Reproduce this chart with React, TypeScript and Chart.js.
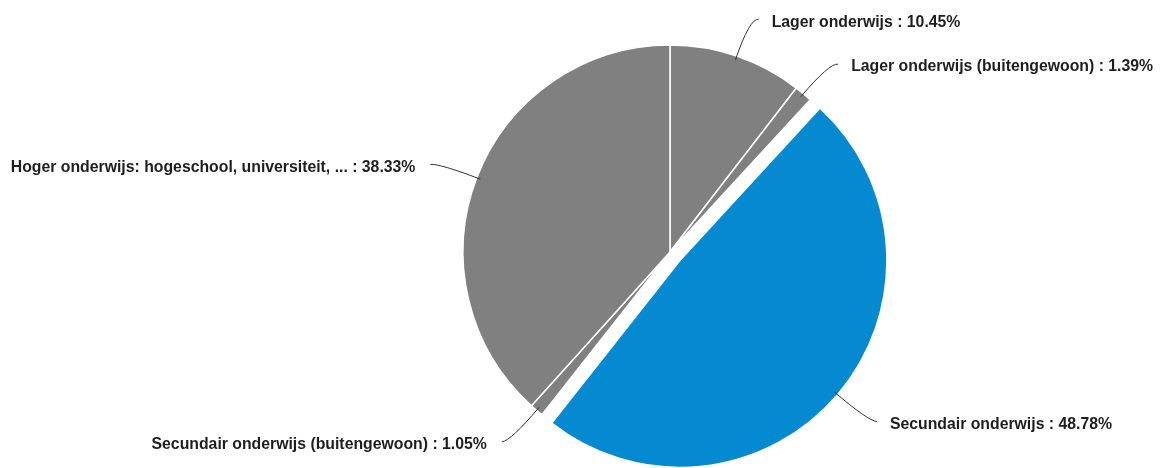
import React, { useEffect, useRef } from "react";
import { Chart, registerables } from "chart.js";

Chart.register(...registerables);

const categories = [
  "Lager onderwijs",
  "Lager onderwijs (buitengewoon)",
  "Secundair onderwijs",
  "Secundair onderwijs (buitengewoon)",
  "Hoger onderwijs: hogeschool, universiteit, ...",
];
const percentages = [10.45, 1.39, 48.78, 1.05, 38.33];
const sliceColors = ["#808080", "#808080", "#058ad1", "#808080", "#808080"];
const explodedIndex = 2;
const explodeDistance = 13;

const explodePlugin = {
  id: "explodeSlice",
  afterDatasetsUpdate(chart: any) {
    const meta = chart.getDatasetMeta(0);
    const arc = meta.data[explodedIndex];
    if (!arc) return;
    const mid = (arc.startAngle + arc.endAngle) / 2;
    arc.x += Math.cos(mid) * explodeDistance;
    arc.y += Math.sin(mid) * explodeDistance;
  },
};

const labelPlugin = {
  id: "outerLabels",
  afterDatasetsDraw(chart: any) {
    const ctx = chart.ctx;
    const meta = chart.getDatasetMeta(0);
    ctx.save();
    ctx.font = "bold 15.8px 'Liberation Sans', Arial, sans-serif";
    ctx.textBaseline = "middle";
    meta.data.forEach((arc: any, i: number) => {
      const mid = (arc.startAngle + arc.endAngle) / 2;
      const r = arc.outerRadius;
      const dx = Math.cos(mid);
      const dy = Math.sin(mid);
      const right = dx >= 0;
      const p0x = arc.x + dx * (r - 4);
      const p0y = arc.y + dy * (r - 4);
      const p1x = arc.x + dx * (r + 40);
      const p1y = arc.y + dy * (r + 40);
      const p2x = p1x + (right ? 9 : -9);
      const p2y = p1y + 1;
      ctx.strokeStyle = "#333333";
      ctx.lineWidth = 1;
      ctx.beginPath();
      ctx.moveTo(p0x, p0y);
      ctx.quadraticCurveTo(p1x, p1y, p2x, p2y);
      ctx.stroke();
      ctx.fillStyle = "#1e1e1e";
      ctx.textAlign = right ? "left" : "right";
      const text = categories[i] + " : " + percentages[i].toFixed(2) + "%";
      ctx.fillText(text, p2x + (right ? 13 : -15), p2y + 3);
    });
    ctx.restore();
  },
};

export default function App() {
  const canvasRef = useRef<HTMLCanvasElement | null>(null);

  useEffect(() => {
    if (!canvasRef.current) return;
    const chart = new Chart(canvasRef.current, {
      type: "pie",
      data: {
        labels: categories,
        datasets: [
          {
            data: percentages,
            backgroundColor: sliceColors,
            borderColor: "#ffffff",
            borderWidth: 1.5,
          },
        ],
      },
      options: {
        animation: false,
        responsive: true,
        maintainAspectRatio: false,
        radius: 207,
        layout: { padding: { left: 179, right: 0, top: 36, bottom: 0 } },
        plugins: {
          legend: { display: false },
          tooltip: { enabled: false },
        },
      },
      plugins: [explodePlugin, labelPlugin],
    } as any);
    return () => chart.destroy();
  }, []);

  return (
    <div
      style={{
        position: "fixed",
        left: 0,
        top: 0,
        width: 1161,
        height: 468,
        background: "#ffffff",
      }}
    >
      <canvas ref={canvasRef} />
    </div>
  );
}
